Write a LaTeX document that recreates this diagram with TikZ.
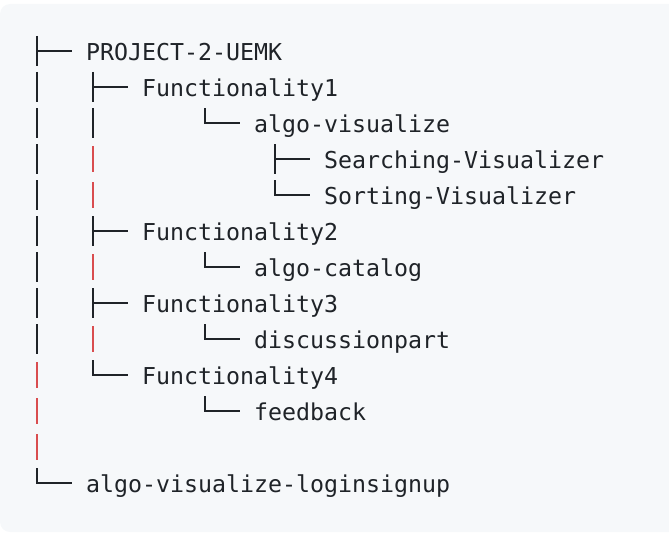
\documentclass[tikz,border=0pt]{standalone}
\usepackage{fontspec}
\newfontfamily\codefont{DejaVu Sans Mono}
\definecolor{codebg}{HTML}{F6F8FA}
\definecolor{codefg}{HTML}{1F2328}
\definecolor{errred}{HTML}{D94D4F}
\begin{document}
\begin{tikzpicture}[x=1pt,y=-1pt,
  txt/.style={anchor=base west,inner sep=0pt,font=\codefont\fontsize{23.25}{23.25}\selectfont,text=codefg},
  tline/.style={draw=codefg,line width=2pt},
  rbar/.style={draw=errred,line width=2pt}]
\useasboundingbox (0,0) rectangle (669,543);
\fill[codebg,rounded corners=10pt] (0,4) rectangle (690,532);
% helpers
\def\cw{14}
\def\xo{30}
\newcommand\cc[1]{\xo+\cw*#1+\cw/2}
\newcommand\ry[1]{51+36*(#1-1)}
% text nodes
\node[txt] (n1)  at ({\xo+\cw*4},{\ry{1}+9}) {PROJECT-2-UEMK};
\node[txt] (n2)  at ({\xo+\cw*8},{\ry{2}+9}) {Functionality1};
\node[txt] (n3)  at ({\xo+\cw*16},{\ry{3}+9}) {algo-visualize};
\node[txt] (n4)  at ({\xo+\cw*21},{\ry{4}+9}) {Searching-Visualizer};
\node[txt] (n5)  at ({\xo+\cw*21},{\ry{5}+9}) {Sorting-Visualizer};
\node[txt] (n6)  at ({\xo+\cw*8},{\ry{6}+9}) {Functionality2};
\node[txt] (n7)  at ({\xo+\cw*16},{\ry{7}+9}) {algo-catalog};
\node[txt] (n8)  at ({\xo+\cw*8},{\ry{8}+9}) {Functionality3};
\node[txt] (n9)  at ({\xo+\cw*16},{\ry{9}+9}) {discussionpart};
\node[txt] (n10) at ({\xo+\cw*8},{\ry{10}+9}) {Functionality4};
\node[txt] (n11) at ({\xo+\cw*16},{\ry{11}+9}) {feedback};
\node[txt] (n13) at ({\xo+\cw*4},{\ry{13}+9}) {algo-visualize-loginsignup};
% tee: col, row, target node
\newcommand\treetee[3]{\draw[tline] ({\cc{#1}},{\ry{#2}-15}) -- ({\cc{#1}},{\ry{#2}+15});
  \draw[tline] ({\cc{#1}},{\ry{#2}}) -- ({\xo+\cw*(#1+3)},{\ry{#2}});}
\newcommand\treeelbow[3]{\draw[tline] ({\cc{#1}},{\ry{#2}-15}) -- ({\cc{#1}},{\ry{#2}}) -- ({\xo+\cw*(#1+3)},{\ry{#2}});}
\newcommand\vbar[2]{\draw[tline] ({\cc{#1}},{\ry{#2}-15}) -- ({\cc{#1}},{\ry{#2}+15});}
\newcommand\rvbar[2]{\draw[rbar] ({\cc{#1}},{\ry{#2}-13}) -- ({\cc{#1}},{\ry{#2}+13});}
% column 0
\treetee{0}{1}{n1}
\foreach \r in {2,...,9} {\vbar{0}{\r}}
\foreach \r in {10,11,12} {\rvbar{0}{\r}}
\treeelbow{0}{13}{n13}
% column 4
\treetee{4}{2}{n2}
\vbar{4}{3}
\rvbar{4}{4}\rvbar{4}{5}
\treetee{4}{6}{n6}
\rvbar{4}{7}
\treetee{4}{8}{n8}
\rvbar{4}{9}
\treeelbow{4}{10}{n10}
% deeper
\treeelbow{12}{3}{n3}
\treetee{17}{4}{n4}
\treeelbow{17}{5}{n5}
\treeelbow{12}{7}{n7}
\treeelbow{12}{9}{n9}
\treeelbow{12}{11}{n11}
\end{tikzpicture}
\end{document}
